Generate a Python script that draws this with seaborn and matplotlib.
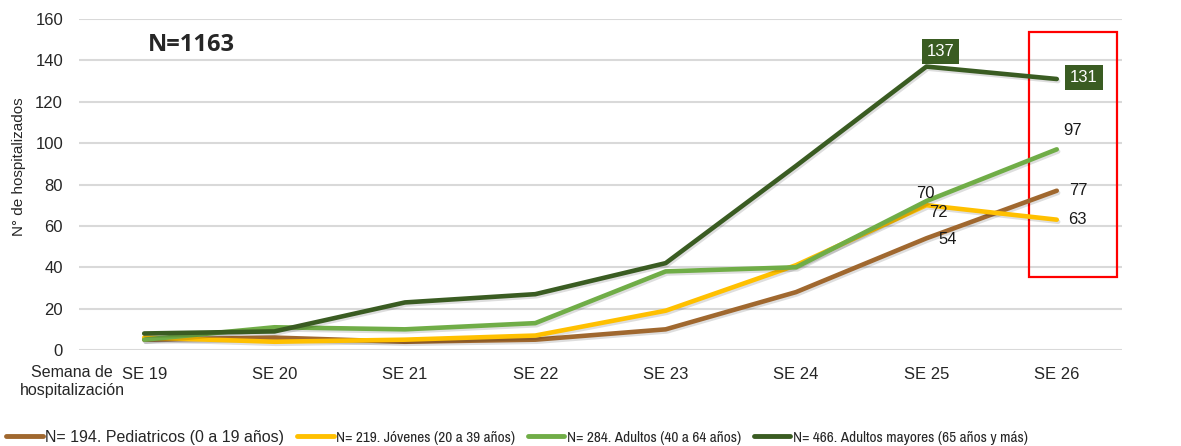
import pandas as pd
import seaborn as sns
from matplotlib import pyplot as plt
from matplotlib import patches, font_manager
from matplotlib import patheffects as pe

semanas = ['SE 19', 'SE 20', 'SE 21', 'SE 22', 'SE 23', 'SE 24', 'SE 25', 'SE 26']
pediatricos = [5, 6, 4, 5, 10, 28, 54, 77]
jovenes = [6, 4, 5, 7, 19, 41, 70, 63]
adultos = [5, 11, 10, 13, 38, 40, 72, 97]
mayores = [8, 9, 23, 27, 42, 89, 137, 131]

grupos = [
    'N= 194. Pediatricos (0 a 19 años)',
    'N= 219. Jóvenes (20 a 39 años)',
    'N= 284. Adultos (40 a 64 años)',
    'N= 466. Adultos mayores (65 años y más)',
]
colores = ['#A0682F', '#FFC000', '#70AD47', '#3A5C22']

df = pd.concat([
    pd.DataFrame({'semana': semanas, 'casos': vals, 'grupo': g})
    for vals, g in zip([pediatricos, jovenes, adultos, mayores], grupos)
])

sns.set_style('white')
plt.rcParams['font.family'] = ['Liberation Sans', 'DejaVu Sans']

# the later legend entries in the original use a condensed face
narrow = sorted({f.name for f in font_manager.fontManager.ttflist
                 if 'Narrow' in f.name or 'Condensed' in f.name})

fig = plt.figure(figsize=(11.81, 4.46), dpi=100)
ax = fig.add_axes([0.0669, 0.2152, 0.8831, 0.7422])

sns.lineplot(data=df, x='semana', y='casos', hue='grupo', palette=colores,
             linewidth=3.3, sort=False, ax=ax, legend=True)
for ln in ax.get_lines():
    ln.set_path_effects([pe.SimpleLineShadow(offset=(1, -1.5), alpha=0.13), pe.Normal()])
    ln.set_solid_capstyle('round')

ax.set_xlim(-0.5, 7.5)
ax.set_ylim(0, 160)
ax.set_yticks(range(0, 161, 20))
ax.grid(axis='y', color='#D9D9D9', linewidth=1.5)
ax.set_axisbelow(True)
for s in ax.spines.values():
    s.set_visible(False)
ax.tick_params(axis='both', length=0, labelsize=12, colors='#262626')
ax.tick_params(axis='y', pad=11.5)
ax.tick_params(axis='x', pad=12)
ax.set_xlabel('')
ax.set_ylabel('')
fig.text(0.016, 0.626, 'N° de hospitalizados', rotation=90, fontsize=11,
         ha='center', va='center', color='#262626')
fig.text(0.061, 0.145, 'Semana de\nhospitalización', fontsize=11.5,
         ha='center', va='center', color='#262626', linespacing=1.2)

ax.text(0.066, 0.921, 'N=1163', transform=ax.transAxes, fontsize=17,
        fontweight='bold', family='Open Sans', ha='left', va='center')

# data labels
box = dict(boxstyle='square,pad=0.3', facecolor='#3A5C22', edgecolor='none')
lab = dict(textcoords='offset pixels', ha='center', va='center', fontsize=12,
           color='#1A1A1A')
ax.annotate(str(mayores[6]), (semanas[6], mayores[6]), xytext=(14, 15),
            bbox=box, **{**lab, 'color': 'white'})
ax.annotate(str(mayores[7]), (semanas[7], mayores[7]), xytext=(27, 1),
            bbox=box, **{**lab, 'color': 'white'})
ax.annotate(str(adultos[7]), (semanas[7], adultos[7]), xytext=(16, 19), **lab)
ax.annotate(str(pediatricos[7]), (semanas[7], pediatricos[7]), xytext=(22, 0), **lab)
ax.annotate(str(jovenes[7]), (semanas[7], jovenes[7]), xytext=(21, 0), **lab)
ax.annotate(str(jovenes[6]), (semanas[6], jovenes[6]), xytext=(-1, 12), **lab)
ax.annotate(str(adultos[6]), (semanas[6], adultos[6]), xytext=(12, -11), **lab)
ax.annotate(str(pediatricos[6]), (semanas[6], pediatricos[6]), xytext=(21, -1), **lab)

# red highlight box around last week
ax.add_patch(patches.Rectangle((6.785, 35.3), 0.675, 118.3, fill=False,
                               edgecolor='#FF0000', linewidth=1.6, clip_on=False))

handles, labels = ax.get_legend_handles_labels()
ax.get_legend().remove()
leg = fig.legend(handles, labels, ncol=4, loc='center left',
                 bbox_to_anchor=(0.005, 0.02), frameon=False, fontsize=11.5,
                 handlelength=2.3, handletextpad=0.15, columnspacing=0.8,
                 borderpad=0, borderaxespad=0)
for t in leg.get_texts()[1:]:
    if narrow:
        t.set_family([narrow[0], 'Liberation Sans'])
        t.set_fontsize(11)
    else:
        t.set_fontsize(8.8)
for h in leg.legend_handles:
    h.set_linewidth(3.5)
    h.set_path_effects([])

fig.savefig('out.png', dpi=100)
